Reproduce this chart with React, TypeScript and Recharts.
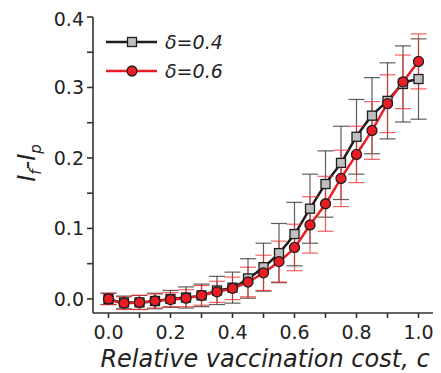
import React from "react";
import {
  ErrorBar,
  Label,
  Legend,
  Line,
  LineChart,
  XAxis,
  YAxis,
} from "recharts";

// relative vaccination cost c
const costs = [
  0, 0.05, 0.1, 0.15, 0.2, 0.25, 0.3, 0.35, 0.4, 0.45, 0.5, 0.55, 0.6, 0.65,
  0.7, 0.75, 0.8, 0.85, 0.9, 0.95, 1.0,
];

// delta = 0.4 (grey squares)
const delta04 = [
  0.0, -0.005, -0.005, -0.003, 0.0, 0.002, 0.005, 0.012, 0.016, 0.029, 0.045,
  0.065, 0.092, 0.128, 0.163, 0.193, 0.23, 0.26, 0.281, 0.305, 0.312,
];
const delta04Err = [
  0.008, 0.009, 0.01, 0.011, 0.012, 0.015, 0.016, 0.02, 0.022, 0.028, 0.034,
  0.042, 0.045, 0.049, 0.047, 0.052, 0.053, 0.054, 0.054, 0.054, 0.057,
];

// delta = 0.6 (red circles)
const delta06 = [
  0.0, -0.006, -0.005, -0.003, -0.001, 0.001, 0.005, 0.01, 0.015, 0.024, 0.037,
  0.053, 0.073, 0.105, 0.135, 0.171, 0.205, 0.239, 0.277, 0.308, 0.337,
];
const delta06Err = [
  0.008, 0.009, 0.01, 0.01, 0.01, 0.012, 0.014, 0.015, 0.016, 0.021, 0.025,
  0.029, 0.033, 0.04, 0.039, 0.04, 0.04, 0.041, 0.041, 0.038, 0.039,
];

const xTicks = [0, 0.1, 0.2, 0.3, 0.4, 0.5, 0.6, 0.7, 0.8, 0.9, 1.0];
const yTicks = [0, 0.05, 0.1, 0.15, 0.2, 0.25, 0.3, 0.35, 0.4];

const FONT = "'DejaVu Sans', sans-serif";
const RED = "#ec1c24";
const DARK = "#1e1e1e";
const FRAME = "#333";

const data = costs.map((c, i) => ({
  c,
  a: delta04[i],
  aErr: delta04Err[i],
  b: delta06[i],
  bErr: delta06Err[i],
}));

const xLabelFmt = (v: number) =>
  Math.round(v * 10) % 2 === 0 ? v.toFixed(1) : "";
const yLabelFmt = (v: number) =>
  Math.round(v * 100) % 10 === 0 ? v.toFixed(1) : "";

function SquareDot(props: any) {
  const { cx, cy } = props;
  if (cx == null || cy == null) return null;
  return (
    <rect
      x={cx - 4.5}
      y={cy - 4.5}
      width={9}
      height={9}
      fill="#bfbfbf"
      stroke={DARK}
      strokeWidth={1.3}
    />
  );
}

function LegendBox() {
  return (
    <svg width={170} height={50} style={{ display: "block", overflow: "visible" }}>
      <line x1={0} y1={8} x2={51} y2={8} stroke={DARK} strokeWidth={2.5} />
      <rect
        x={21.5}
        y={3.5}
        width={9}
        height={9}
        fill="#bfbfbf"
        stroke={DARK}
        strokeWidth={1.3}
      />
      <text
        x={59}
        y={8}
        dy="0.36em"
        fontFamily={FONT}
        fontSize={19}
        fontStyle="italic"
        fill="#222"
      >
        δ=0.4
      </text>
      <line x1={0} y1={37} x2={51} y2={37} stroke={RED} strokeWidth={2.5} />
      <circle cx={26} cy={37} r={5} fill={RED} stroke={DARK} strokeWidth={1.3} />
      <text
        x={59}
        y={37}
        dy="0.36em"
        fontFamily={FONT}
        fontSize={19}
        fontStyle="italic"
        fill="#222"
      >
        δ=0.6
      </text>
    </svg>
  );
}

export default function App() {
  const tickStyle = { fontFamily: FONT, fontSize: 19, fill: "#222" };
  return (
    <LineChart
      width={433}
      height={365}
      data={data}
      margin={{ top: 9, right: 7, left: 0, bottom: 0 }}
    >
      <XAxis
        dataKey="c"
        type="number"
        domain={[-0.05, 1.05]}
        ticks={xTicks}
        tickFormatter={xLabelFmt}
        tick={tickStyle}
        tickSize={5}
        tickMargin={8}
        height={60}
        stroke={FRAME}
        strokeWidth={1.6}
        allowDataOverflow
      >
        <Label
          content={() => (
            <text
              x={257}
              y={359}
              textAnchor="middle"
              fontFamily={FONT}
              fontSize={24}
              fontStyle="italic"
              fill="#222"
            >
              Relative vaccination cost, c
            </text>
          )}
        />
      </XAxis>
      <XAxis
        xAxisId="top"
        dataKey="c"
        type="number"
        orientation="top"
        mirror
        domain={[-0.05, 1.05]}
        ticks={xTicks}
        tick={false}
        tickSize={6}
        height={0}
        stroke={FRAME}
        strokeWidth={1.6}
        allowDataOverflow
      />
      <YAxis
        type="number"
        domain={[-0.02, 0.4]}
        ticks={yTicks}
        tickFormatter={yLabelFmt}
        tick={tickStyle}
        tickSize={6}
        tickMargin={3}
        width={85}
        stroke={FRAME}
        strokeWidth={1.6}
        allowDataOverflow
      >
        <Label
          content={() => (
            <text
              x={27}
              y={155}
              transform="rotate(-90, 27, 155)"
              textAnchor="middle"
              fontFamily={FONT}
              fontSize={24}
              fontStyle="italic"
              fill="#222"
            >
              I
              <tspan dy={6} fontSize={15}>
                f
              </tspan>
              <tspan dy={-6}>-I</tspan>
              <tspan dy={6} fontSize={15}>
                p
              </tspan>
            </text>
          )}
        />
      </YAxis>
      <YAxis
        yAxisId="right"
        type="number"
        orientation="right"
        mirror
        domain={[-0.02, 0.4]}
        ticks={yTicks}
        tick={false}
        tickSize={5}
        width={0}
        stroke={FRAME}
        strokeWidth={1.6}
        allowDataOverflow
      />
      <Legend
        layout="horizontal"
        verticalAlign="middle"
        align="center"
        content={() => <LegendBox />}
        wrapperStyle={{ position: "absolute", left: 98, top: 26, width: 170 }}
      />
      <Line
        dataKey="a"
        type="monotone"
        stroke={DARK}
        strokeWidth={2.5}
        dot={<SquareDot />}
        activeDot={false}
        isAnimationActive={false}
      >
        <ErrorBar
          dataKey="aErr"
          direction="y"
          width={8}
          stroke="#2a2a2a"
          strokeOpacity={0.75}
          strokeWidth={1.2}
        />
      </Line>
      <Line
        dataKey="b"
        type="monotone"
        stroke={RED}
        strokeWidth={2.5}
        dot={{ r: 5, fill: RED, stroke: DARK, strokeWidth: 1.3 }}
        activeDot={false}
        isAnimationActive={false}
      >
        <ErrorBar
          dataKey="bErr"
          direction="y"
          width={8}
          stroke="#ef2b2b"
          strokeOpacity={0.75}
          strokeWidth={1.2}
        />
      </Line>
    </LineChart>
  );
}
